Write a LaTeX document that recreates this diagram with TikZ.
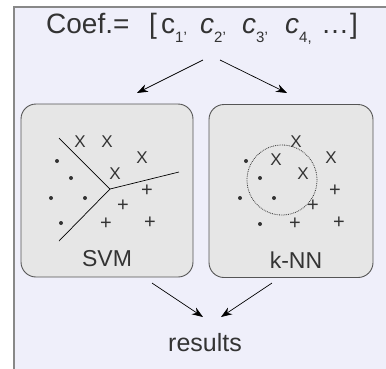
\documentclass[tikz,border=0pt]{standalone}
\usepackage{fontspec}
\setmainfont{Liberation Sans}
\usetikzlibrary{arrows.meta}

\definecolor{panelbg}{HTML}{EFEFFA}
\definecolor{panelline}{HTML}{888888}
\definecolor{boxbg}{HTML}{E6E6E6}
\definecolor{boxline}{HTML}{555555}
\definecolor{ink}{HTML}{333333}

% lowered index for the coefficient names
\newcommand{\lowidx}[1]{\raisebox{-9pt}{\fontsize{15}{15}\selectfont #1}}
% a piece of the header, set from a fixed start
\newcommand{\hpiece}[2]{\rlap{#1}\hspace{#2}}

\begin{document}
\begin{tikzpicture}[x=1pt,y=-1pt,
  classbox/.style={draw=boxline, fill=boxbg, line width=0.9pt, rounded corners=15pt,
                   minimum width=#1, minimum height=173pt, inner sep=0pt},
  flow/.style={draw=black, line width=0.7pt, -{Stealth[length=11pt,width=8pt]}},
  border/.style={draw=black, line width=0.7pt},
  xmark/.style={text=ink, font=\fontsize{17}{17}\selectfont, inner sep=0pt},
  pmark/.style={text=ink, font=\fontsize{20}{20}\selectfont, inner sep=0pt},
  dotmark/.style={circle, fill=ink, minimum size=4pt, inner sep=0pt},
  label/.style={text=ink, font=\fontsize{23}{23}\selectfont, inner sep=0pt}
]
\useasboundingbox (0,0) rectangle (386,368);
\fill[white] (0,0) rectangle (386,368);
\draw[fill=panelbg, draw=panelline, line width=1.5pt] (14,7) rectangle (400,385);

% header with the coefficient vector
\node[text=ink, font=\fontsize{28}{32}\selectfont, inner sep=0pt, anchor=base west] (coef) at (46,33)
  {\hpiece{Coef.=}{103pt}\hpiece{[}{12pt}\hpiece{c\lowidx{1’}}{39pt}\hpiece{\textit{c}\lowidx{2’}}{42pt}\hpiece{\textit{c}\lowidx{3’}}{43pt}\hpiece{\textit{c}\lowidx{4,}}{36pt}\hpiece{\dots}{29pt}]};

% classifier panels
\node[classbox=172pt] (svm) at (107,190.5) {};
\node[classbox=164pt] (knn) at (291,191) {};

\node[label] (svmlbl) at (107,259) {SVM};
\node[label] (knnlbl) at (296,260) {k-NN};

% SVM decision boundaries
\coordinate (j) at (110,189);
\coordinate (b1) at (59,138);
\coordinate (b2) at (59,241);
\coordinate (b3) at (179,172);
\draw[border] (b1) -- (j) -- (b2);
\draw[border] (j) -- (b3);

% SVM samples
\node[xmark] (sx1) at (80,142) {X};
\node[xmark] (sx2) at (107,142) {X};
\node[xmark] (sx3) at (142,158) {X};
\node[xmark] (sx4) at (115,174) {X};
\node[dotmark] (sd1) at (57,161) {};
\node[dotmark] (sd2) at (71,178) {};
\node[dotmark] (sd3) at (51,198) {};
\node[dotmark] (sd4) at (85,198) {};
\node[dotmark] (sd5) at (61,223) {};
\node[pmark] (sp1) at (147,191) {+};
\node[pmark] (sp2) at (123,206) {+};
\node[pmark] (sp3) at (106,224) {+};
\node[pmark] (sp4) at (150,223) {+};

% k-NN neighbourhood
\node[draw=ink, densely dotted, line width=0.8pt, circle, minimum size=70pt, inner sep=0pt] (nbhd) at (282,180) {};

% k-NN samples
\node[xmark] (kx1) at (296,142) {X};
\node[xmark] (kx2) at (276,160) {X};
\node[xmark] (kx3) at (331,158) {X};
\node[xmark] (kx4) at (303,174) {X};
\node[dotmark] (kd1) at (246,161) {};
\node[dotmark] (kd2) at (260,178) {};
\node[dotmark] (kd3) at (240,198) {};
\node[dotmark] (kd4) at (274,198) {};
\node[dotmark] (kd5) at (260,224) {};
\node[pmark] (kp1) at (335,191) {+};
\node[pmark] (kp2) at (313,206) {+};
\node[pmark] (kp3) at (295,224) {+};
\node[pmark] (kp4) at (339,223) {+};

% output
\node[text=ink, font=\fontsize{25}{25}\selectfont, inner sep=0pt] (res) at (205,343) {results};

% arrow end points
\coordinate (c1) at (203,60);
\coordinate (c2) at (220,60);
\coordinate (s1) at (137,93);
\coordinate (k1) at (287,93);
\coordinate (s2) at (152,283);
\coordinate (k2) at (272,283);
\coordinate (r1) at (203,317);
\coordinate (r2) at (221,317);

\draw[flow] (c1) -- (s1);
\draw[flow] (c2) -- (k1);
\draw[flow] (s2) -- (r1);
\draw[flow] (k2) -- (r2);
\end{tikzpicture}
\end{document}
